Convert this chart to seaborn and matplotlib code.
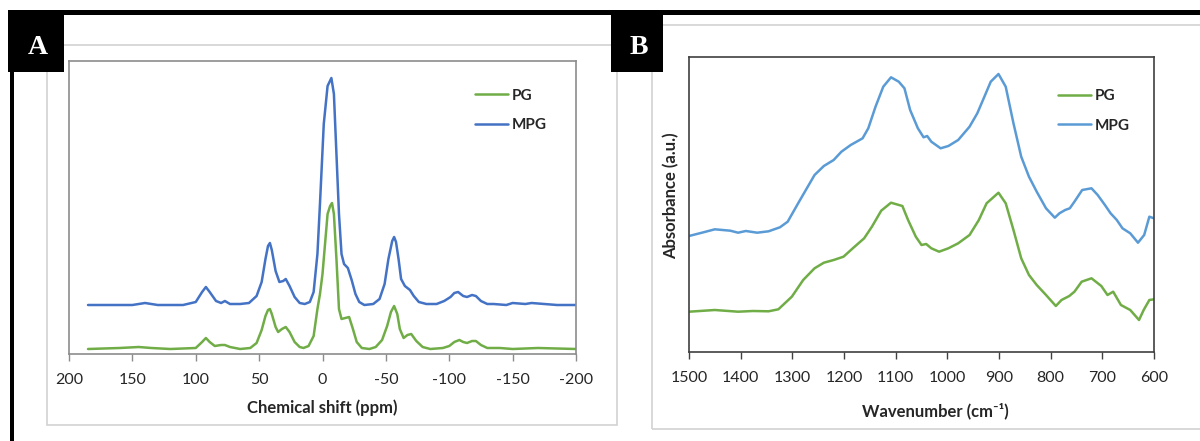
import pandas as pd
import matplotlib.pyplot as plt
import seaborn as sns
from matplotlib.patches import Rectangle
from matplotlib.lines import Line2D

# Panel A - solid state NMR, chemical shift (ppm) vs intensity (a.u.)
nmr_ppm_pg = [185, 160, 145, 135, 120, 100, 95, 92, 89, 85, 80, 77, 73, 65, 57, 52, 48, 45, 43,
              41.5, 40, 37, 35, 32, 29, 26, 22, 18, 15, 11, 7, 4, 2, 0, -2, -4, -6, -7.5, -9,
              -11, -13, -15, -18, -21, -24, -27, -31, -37, -42, -47, -51, -54, -56.5, -59, -61,
              -64, -67, -70, -74, -79, -85, -95, -100, -104, -108, -111, -114, -118, -121, -125,
              -130, -140, -150, -170, -200]
nmr_pg = [5, 6, 7, 6, 5, 6, 12, 16, 12, 8, 9, 9, 7, 5, 6, 11, 24, 38, 44,
          45, 40, 27, 22, 25, 27, 22, 12, 7, 6, 8, 18, 45, 60, 80, 110, 140, 148, 151, 140,
          95, 45, 35, 36, 37, 25, 12, 6, 5, 7, 14, 28, 42, 48, 40, 25,
          16, 19, 20, 13, 7, 5, 6, 8, 12, 14, 12, 11, 13, 13, 9,
          6, 6, 5, 6, 5]

nmr_ppm_mpg = [185, 170, 150, 140, 130, 110, 100, 95, 92, 89, 84, 80, 77, 73, 65, 58, 52, 48, 45,
               43, 41.5, 40, 37, 34, 31, 29, 26, 22, 18, 14, 10, 7, 4, 2, -1, -4, -7, -9, -11,
               -13, -15, -17, -20, -23, -26, -29, -33, -40, -45, -49, -52, -55, -56.5, -58, -60,
               -62, -65, -69, -72, -76, -82, -90, -96, -101, -104, -107, -111, -114, -118, -121,
               -125, -130, -135, -145, -150, -160, -165, -175, -185, -200]
nmr_mpg = [49, 49, 49, 51, 49, 49, 52, 62, 67, 62, 53, 51, 53, 50, 50, 51, 58, 72, 95,
           108, 111, 104, 83, 72, 73, 75, 68, 57, 51, 50, 52, 62, 100, 150, 230, 268, 276, 260, 200,
           140, 100, 90, 86, 74, 60, 52, 49, 50, 55, 70, 95, 113, 117, 112, 95,
           75, 68, 64, 58, 52, 50, 50, 53, 57, 61, 62, 58, 57, 59, 58,
           53, 50, 50, 49, 51, 50, 51, 50, 49, 49]

# Panel B - FTIR, wavenumber (cm-1) vs absorbance (a.u.)
ir_wn_pg = [1500, 1450, 1405, 1376, 1346, 1327, 1301, 1279, 1257, 1239, 1220, 1201, 1183, 1161,
            1146, 1128, 1109, 1087, 1076, 1061, 1050, 1041, 1031, 1016, 998, 979, 957, 939, 924,
            901, 887, 872, 857, 842, 827, 809, 790, 779, 764, 754, 740, 721, 702, 690, 679, 664,
            646, 629, 620, 609, 600]
ir_pg = [40.3, 42, 40.3, 41, 40.7, 42.7, 55.3, 72, 83.7, 89.3, 92, 95.3, 103.7, 113.7,
         125.3, 141.3, 149.3, 146, 132, 115.3, 107, 108, 103.7, 100.3, 103.7, 108.7, 117, 132, 148.7,
         159.3, 148.7, 122, 93.7, 77, 67, 57, 46, 52, 56, 60.3, 70.3, 73.7, 66, 57, 60.3, 47,
         42, 32, 42, 52, 52.7]

ir_wn_mpg = [1500, 1472, 1450, 1420, 1405, 1390, 1368, 1346, 1324, 1309, 1287, 1257, 1239, 1220,
             1205, 1187, 1164, 1153, 1139, 1124, 1109, 1094, 1083, 1072, 1057, 1046, 1039, 1031,
             1013, 998, 979, 957, 942, 931, 916, 901, 887, 872, 857, 842, 827, 809, 792, 783, 772,
             763, 754, 739, 721, 709, 695, 684, 672, 661, 646, 631, 619, 609, 600]
ir_mpg = [116, 119.7, 122.7, 121.3, 119.3, 121, 119.3, 120.7, 124.7, 130.3, 150.3, 177, 186, 192,
          200.3, 207, 213.7, 223.7, 245.3, 265.3, 274.7, 270.3, 263.7, 242, 223.7, 214.7, 216, 210.3,
          203.7, 206, 212, 225.3, 238.7, 252, 270.3, 278, 265.3, 228.7, 195.3, 175.3, 160.3, 143.7,
          134.3, 138.7, 142, 143.7, 150.3, 162, 163.7, 157, 147, 138.7, 132, 123.7, 118.7, 109.3,
          117, 135.3, 133.7]

nmr_ticks = [200, 150, 100, 50, 0, -50, -100, -150, -200]
ir_ticks = [1500, 1400, 1300, 1200, 1100, 1000, 900, 800, 700, 600]

green = "#70AD47"
blue_a = "#4472C4"
blue_b = "#5B9BD5"

sns.set_style("white")
plt.rcParams["font.family"] = ["Lato", "DejaVu Sans"]

fig = plt.figure(figsize=(12, 4.41), dpi=100)
W, H = 1200, 441


def fx(px):
    return px / W


def fy(py):
    return 1 - py / H


# page decorations: grey frames, black borders, panel letter boxes
frames = [(47, 45, 617, 425), (652, 25, 1215, 429)]
for x0, y0, x1, y1 in frames:
    fig.add_artist(Rectangle((fx(x0), fy(y1)), fx(x1 - x0), (y1 - y0) / H, transform=fig.transFigure,
                             fill=False, edgecolor="#d2d2d2", linewidth=1.2))
fig.add_artist(Rectangle((fx(8), fy(15)), fx(1192), 5 / H, transform=fig.transFigure,
                         color="black", linewidth=0))
fig.add_artist(Rectangle((fx(10), 0), fx(4), fy(10), transform=fig.transFigure,
                         color="black", linewidth=0))
for letter, x0, x1 in [("A", 8, 64), ("B", 611, 663)]:
    fig.add_artist(Rectangle((fx(x0), fy(72)), fx(x1 - x0), 62 / H, transform=fig.transFigure,
                             color="black", linewidth=0))
    fig.text(fx((x0 + x1) / 2 + 2), fy(47), letter, color="white", fontsize=20, fontweight="bold",
             family="Liberation Serif", ha="center", va="center")

# ---- Panel A ----
axA = fig.add_axes([fx(69), fy(354), fx(507), 293 / H])
df_a = pd.concat([
    pd.DataFrame({"ppm": nmr_ppm_pg, "I": nmr_pg, "s": "PG"}),
    pd.DataFrame({"ppm": nmr_ppm_mpg, "I": nmr_mpg, "s": "MPG"}),
])
sns.lineplot(data=df_a, x="ppm", y="I", hue="s", palette={"PG": green, "MPG": blue_a},
             linewidth=1.8, errorbar=None, ax=axA)
axA.set_xlim(200, -200)
axA.set_ylim(0, 293)
axA.set_xticks(nmr_ticks)
axA.set_xticklabels([str(t) for t in nmr_ticks])
axA.set_yticks([])
axA.set_ylabel("")
axA.set_xlabel("Chemical shift (ppm)", fontsize=12, fontweight="bold")
axA.xaxis.set_label_coords(0.5, -0.155)
axA.tick_params(axis="x", direction="out", length=5, width=1, color="#8c8c8c", pad=9,
                labelsize=11.5, bottom=True)
for sp in axA.spines.values():
    sp.set_color("#8c8c8c")
    sp.set_linewidth(1.2)
axA.legend(loc="upper left", bbox_to_anchor=(0.80, 0.905), frameon=False, fontsize=11,
           handlelength=2.2, handletextpad=0.2, labelspacing=1.0, borderpad=0, borderaxespad=0,
           prop={"weight": "bold", "size": 11})

# ---- Panel B ----
axB = fig.add_axes([fx(689), fy(352), fx(465), 295 / H])
df_b = pd.concat([
    pd.DataFrame({"wn": ir_wn_pg, "A": ir_pg, "s": "PG"}),
    pd.DataFrame({"wn": ir_wn_mpg, "A": ir_mpg, "s": "MPG"}),
])
sns.lineplot(data=df_b, x="wn", y="A", hue="s", palette={"PG": green, "MPG": blue_b},
             linewidth=1.8, errorbar=None, ax=axB)
axB.set_xlim(1500, 600)
axB.set_ylim(0, 295)
axB.set_xticks(ir_ticks)
axB.set_xticklabels([str(t) for t in ir_ticks])
axB.set_yticks([])
axB.set_ylabel("Absorbance (a.u.)", fontsize=12, fontweight="bold")
axB.yaxis.set_label_coords(-0.02, 0.53)
axB.set_xlabel("Wavenumber (cm⁻¹)", fontsize=12, fontweight="bold")
axB.xaxis.set_label_coords(0.53, -0.17)
axB.tick_params(axis="x", direction="out", length=5, width=1, color="#404040", pad=9,
                labelsize=11.5, bottom=True)
for sp in axB.spines.values():
    sp.set_color("#404040")
    sp.set_linewidth(1.2)
axB.legend(loc="upper left", bbox_to_anchor=(0.793, 0.89), frameon=False,
           handlelength=2.2, handletextpad=0.2, labelspacing=1.0, borderpad=0, borderaxespad=0,
           prop={"weight": "bold", "size": 11})

fig.savefig("out.png", dpi=100)
